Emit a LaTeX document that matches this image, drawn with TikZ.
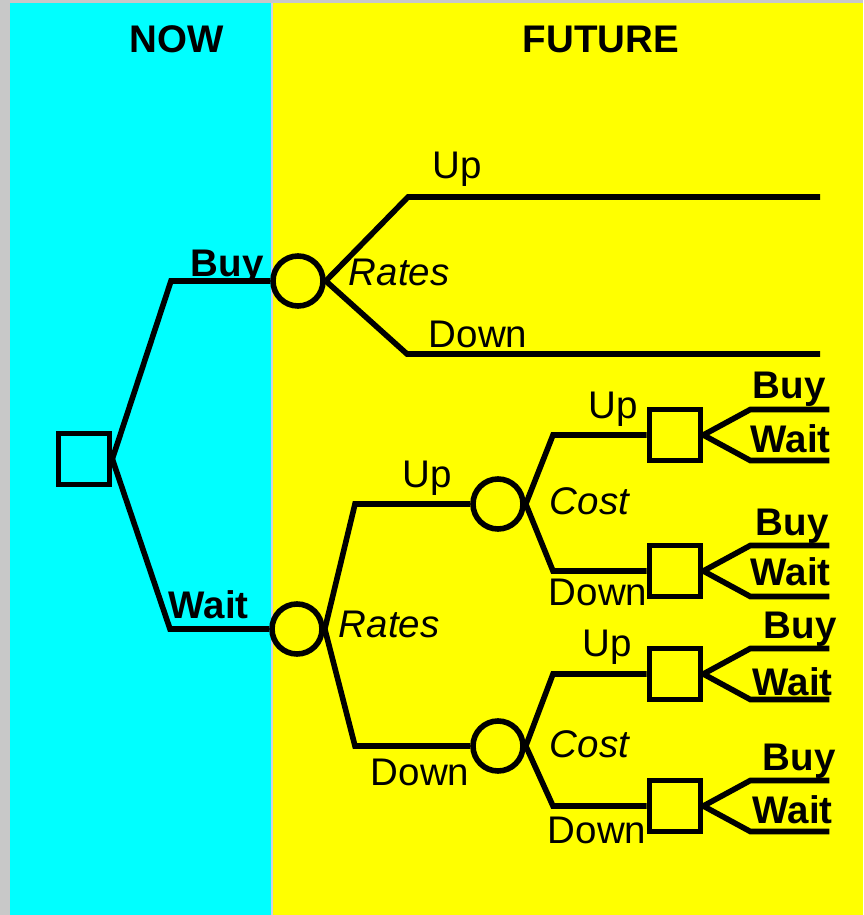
\documentclass[tikz,border=0pt]{standalone}
\usepackage{fontspec}
\setmainfont{Liberation Sans}
\definecolor{framegrey}{HTML}{C8C8C8}
\definecolor{nowbg}{HTML}{00FFFF}
\definecolor{futurebg}{HTML}{FFFF00}
\definecolor{divider}{HTML}{D0D0E4}
\begin{document}
\begin{tikzpicture}[x=1pt, y=-1pt, line width=5.6pt, line join=miter,
  decision/.style={draw, rectangle, minimum size=51pt, inner sep=0pt},
  chance/.style={draw, circle, minimum size=50pt, inner sep=0pt},
  lbl/.style={anchor=base west, inner sep=0pt, font=\fontsize{38.5}{40}\selectfont},
  blbl/.style={lbl, font=\fontsize{38.5}{40}\selectfont\bfseries},
  ilbl/.style={lbl, font=\fontsize{38.5}{40}\selectfont\itshape}]

% panels
\useasboundingbox (0,0) rectangle (863,915);
\fill[framegrey] (0,0) rectangle (863,915);
\fill[nowbg] (10,3) rectangle (271,915);
\fill[futurebg] (273,3) rectangle (863,915);
\draw[divider, line width=1.5pt] (272,3) -- (272,915);

\node[blbl] (now) at (127,53) {NOW};
\node[blbl] (future) at (520,53) {FUTURE};

% decision and chance nodes
\node[decision] (root) at (84,459) {};
\node[chance] (ratesB) at (298,281) {};
\node[chance] (ratesW) at (297,629) {};
\node[chance] (costU) at (498,504) {};
\node[chance] (costD) at (498,746) {};
\node[decision] (d1) at (675,435) {};
\node[decision] (d2) at (675,571) {};
\node[decision] (d3) at (675,674) {};
\node[decision] (d4) at (675,806) {};

% bends and open ends
\coordinate (kBuy) at (171,281);
\coordinate (kWait) at (170,629);
\coordinate (kRU) at (408,197);
\coordinate (eRU) at (820,197);
\coordinate (kRD) at (407,354);
\coordinate (eRD) at (820,354);
\coordinate (kWU) at (355,504);
\coordinate (kWD) at (355,746);
\coordinate (kC1) at (553,435);
\coordinate (kC2) at (553,571);
\coordinate (kC3) at (553,674);
\coordinate (kC4) at (553,806);

% branches
\draw (root.east) -- (kBuy) -- (ratesB.west);
\draw (root.east) -- (kWait) -- (ratesW.west);
\draw (ratesB.east) -- (kRU) -- (eRU);
\draw (ratesB.east) -- (kRD) -- (eRD);
\draw (ratesW.east) -- (kWU) -- (costU.west);
\draw (ratesW.east) -- (kWD) -- (costD.west);
\draw (costU.east) -- (kC1) -- (d1.west);
\draw (costU.east) -- (kC2) -- (d2.west);
\draw (costD.east) -- (kC3) -- (d3.west);
\draw (costD.east) -- (kC4) -- (d4.west);
\foreach \d in {d1,d2,d3,d4}{
  \draw (\d.east) -- ++(47,-25.5) -- ++(79,0);
  \draw (\d.east) -- ++(47,25.5) -- ++(79,0);
}

% labels
\node[blbl] (lBuy) at (188,276) {Buy};
\node[blbl] (lWait) at (166,618) {Wait};
\node[lbl] (lUp1) at (430,178) {Up};
\node[ilbl] (lRates1) at (346,285) {Rates};
\node[lbl] (lDown1) at (426,347) {Down};
\node[lbl] (lUp2) at (400,487) {Up};
\node[ilbl] (lRates2) at (336,637) {Rates};
\node[lbl] (lDown2) at (368,785) {Down};
\node[lbl] (lUp3) at (586,418) {Up};
\node[ilbl] (lCost1) at (547,514) {Cost};
\node[lbl] (lDown3) at (546,605) {Down};
\node[lbl] (lUp4) at (580,656) {Up};
\node[ilbl] (lCost2) at (547,757) {Cost};
\node[lbl] (lDown4) at (545,843) {Down};

\node[blbl] (b1) at (750,398) {Buy};
\node[blbl] (w1) at (748,452) {Wait};
\node[blbl] (b2) at (753,535) {Buy};
\node[blbl] (w2) at (748,585) {Wait};
\node[blbl] (b3) at (761,638) {Buy};
\node[blbl] (w3) at (750,695) {Wait};
\node[blbl] (b4) at (760,770) {Buy};
\node[blbl] (w4) at (750,823) {Wait};
\end{tikzpicture}
\end{document}
